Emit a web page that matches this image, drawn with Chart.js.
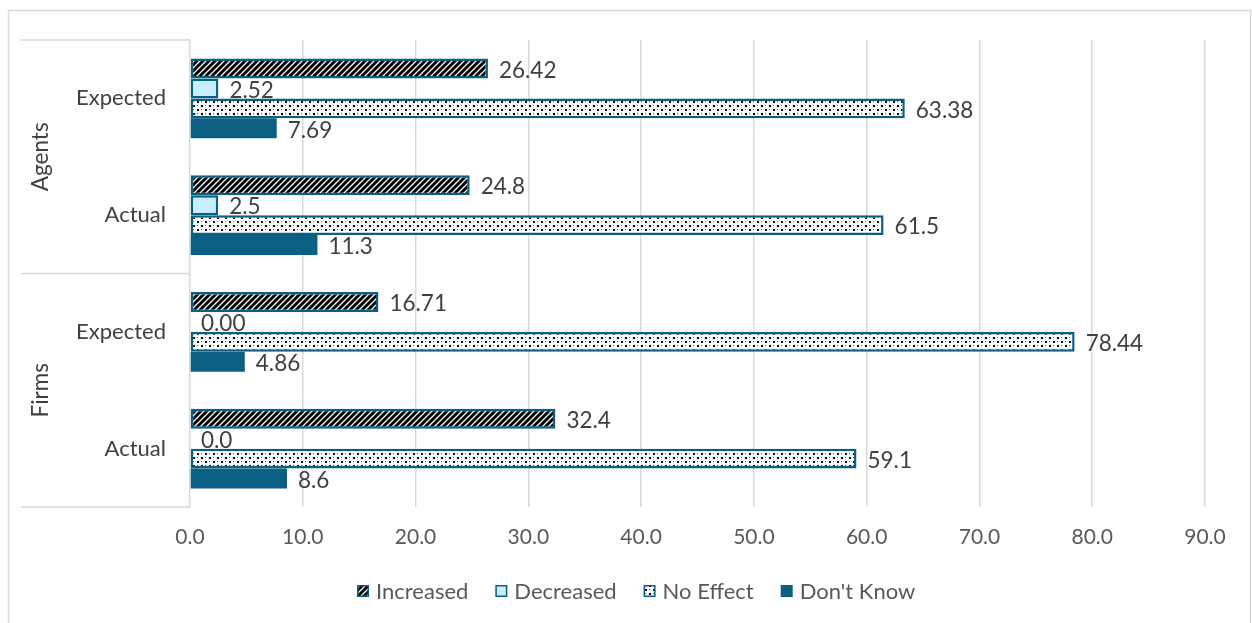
<!DOCTYPE html>
<html>
<head>
<meta charset="utf-8">
<script src="https://cdn.jsdelivr.net/npm/chart.js@4/dist/chart.umd.min.js"></script>
<style>
  html, body { margin: 0; padding: 0; background: #fff; }
  #wrap { width: 1252px; height: 623px; }
</style>
</head>
<body>
<div id="wrap"><canvas id="c" width="1252" height="623"></canvas></div>
<script>
// Survey responses (%), rows top to bottom
const categories = ['Expected', 'Actual', 'Expected', 'Actual'];
const groups = ['Agents', 'Firms'];          // each group covers two rows
const seriesNames = ['Increased', 'Decreased', 'No Effect', "Don't Know"];
const increased = [26.42, 24.8, 16.71, 32.4];
const decreased = [2.52, 2.5, 0.00, 0.0];
const noEffect  = [63.38, 61.5, 78.44, 59.1];
const dontKnow  = [7.69, 11.3, 4.86, 8.6];
const labelDecimals = [2, 1, 2, 1];
const xTickValues = [0, 10, 20, 30, 40, 50, 60, 70, 80, 90];

const FONT = 'Lato, "Open Sans", sans-serif';
const TEAL = '#0A5F82';
const LIGHT = '#C8EEFB';

function makeHatch() {
  const s = 6;
  const c = document.createElement('canvas');
  c.width = s; c.height = s;
  const g = c.getContext('2d');
  g.fillStyle = '#fff'; g.fillRect(0, 0, s, s);
  g.strokeStyle = '#000'; g.lineWidth = 3;
  g.beginPath();
  g.moveTo(-1, 1); g.lineTo(1, -1);
  g.moveTo(0, s); g.lineTo(s, 0);
  g.moveTo(s - 1, s + 1); g.lineTo(s + 1, s - 1);
  g.stroke();
  return g.createPattern(c, 'repeat');
}

function makeDots() {
  const s = 8;
  const c = document.createElement('canvas');
  c.width = s; c.height = s;
  const g = c.getContext('2d');
  g.fillStyle = '#fff'; g.fillRect(0, 0, s, s);
  g.fillStyle = '#000';
  g.fillRect(1, 1, 2, 2);
  g.fillRect(5, 5, 2, 2);
  g.fillStyle = '#555';
  g.fillRect(5, 1, 1, 1);
  g.fillRect(1, 5, 1, 1);
  return g.createPattern(c, 'repeat');
}

const hatch = makeHatch();
const dots = makeDots();

const fills = [hatch, LIGHT, dots, TEAL];
const seriesValues = [increased, decreased, noEffect, dontKnow];

const datasets = seriesNames.map((name, i) => ({
  label: name,
  data: seriesValues[i],
  backgroundColor: fills[i],
  borderColor: TEAL,
  borderWidth: i === 3 ? 0 : 2.5,
  borderSkipped: false,
  categoryPercentage: 0.685,
  barPercentage: 1.0
}));

// Outer frame, row group separators, group titles and legend
const framePlugin = {
  id: 'frame',
  beforeDraw(chart) {
    const ctx = chart.ctx;
    ctx.save();
    ctx.strokeStyle = '#D9D9D9';
    ctx.lineWidth = 1.5;
    ctx.strokeRect(8.5, 10.5, 1242, 700);
    ctx.restore();
  },
  afterDraw(chart) {
    const ctx = chart.ctx;
    const y = chart.scales.y;
    const area = chart.chartArea;
    const mid = (y.getPixelForValue(1) + y.getPixelForValue(2)) / 2;
    const bounds = [area.top, mid, area.bottom];
    ctx.save();
    ctx.strokeStyle = '#D9D9D9';
    ctx.lineWidth = 1.5;
    bounds.forEach(b => {
      ctx.beginPath();
      ctx.moveTo(21, b);
      ctx.lineTo(area.left, b);
      ctx.stroke();
    });
    ctx.fillStyle = '#404040';
    ctx.font = '22.5px ' + FONT;
    ctx.textAlign = 'center';
    ctx.textBaseline = 'middle';
    groups.forEach((gname, gi) => {
      const cy = (bounds[gi] + bounds[gi + 1]) / 2;
      ctx.save();
      ctx.translate(41, cy);
      ctx.rotate(-Math.PI / 2);
      ctx.fillText(gname, 0, 0);
      ctx.restore();
    });

    // legend
    const ly = 591;
    let lx = 357;
    ctx.font = '22px ' + FONT;
    ctx.textAlign = 'left';
    chart.data.datasets.forEach((ds) => {
      ctx.fillStyle = ds.backgroundColor;
      ctx.fillRect(lx, ly - 6, 12, 12);
      if (ds.borderWidth) {
        ctx.strokeStyle = ds.borderColor;
        ctx.lineWidth = 1.5;
        ctx.strokeRect(lx + 0.75, ly - 5.25, 10.5, 10.5);
      }
      ctx.fillStyle = '#595959';
      ctx.fillText(ds.label, lx + 19, ly + 1);
      lx += 19 + ctx.measureText(ds.label).width + 27;
    });
    ctx.restore();
  },
  afterDatasetsDraw(chart) {
    const ctx = chart.ctx;
    ctx.save();
    ctx.fillStyle = '#404040';
    ctx.font = '22.5px ' + FONT;
    ctx.textAlign = 'left';
    ctx.textBaseline = 'middle';
    chart.data.datasets.forEach((ds, di) => {
      const meta = chart.getDatasetMeta(di);
      meta.data.forEach((el, i) => {
        const v = ds.data[i];
        ctx.fillText(v.toFixed(labelDecimals[i]), el.x + 11, el.y + 2);
      });
    });
    ctx.restore();
  }
};

new Chart(document.getElementById('c'), {
  type: 'bar',
  data: { labels: categories, datasets },
  options: {
    indexAxis: 'y',
    responsive: false,
    animation: false,
    devicePixelRatio: 1,
    layout: { padding: { top: 40, right: 47, left: 0, bottom: 0 } },
    plugins: { legend: { display: false }, tooltip: { enabled: false } },
    scales: {
      x: {
        min: 0, max: 90,
        afterBuildTicks(scale) { scale.ticks = xTickValues.map(v => ({ value: v })); },
        afterFit(scale) { scale.height = 116; },
        ticks: {
          padding: 18,
          color: '#595959',
          font: { family: FONT, size: 21 },
          maxRotation: 0,
          callback: v => Number(v).toFixed(1)
        },
        grid: { color: '#D9D9D9', lineWidth: 1.5, drawTicks: false },
        border: { display: false }
      },
      y: {
        afterFit(scale) { scale.width = 190; },
        ticks: {
          padding: 24,
          color: '#404040',
          font: { family: FONT, size: 22 }
        },
        grid: { display: false, drawTicks: false },
        border: { display: false }
      }
    }
  },
  plugins: [framePlugin]
});
</script>
</body>
</html>
